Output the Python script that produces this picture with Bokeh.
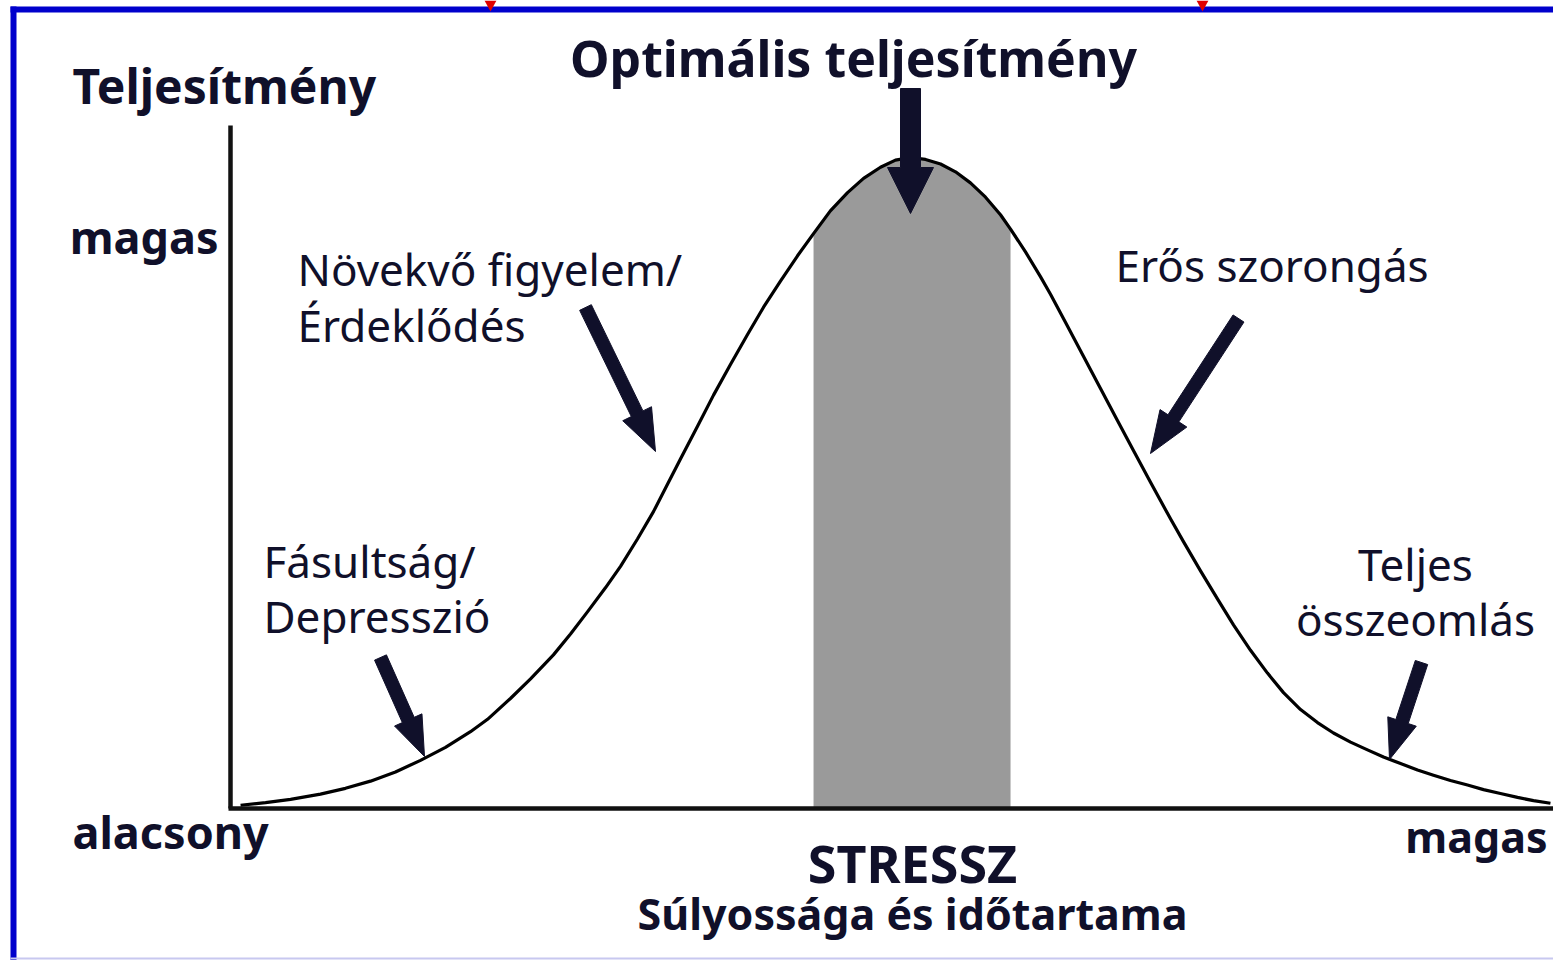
from bokeh.plotting import figure
from bokeh.models import Range1d, Label
from bokeh.embed import file_html
from bokeh.resources import INLINE
import math

# ---------------- data (stress level 0-100, performance 0-100) ----------------
stress = [0.76, 2.65, 4.54, 6.80, 8.69, 10.58, 12.47, 14.36, 16.25, 18.14,
          19.43, 21.16, 22.68, 24.41, 25.70, 26.98, 28.34, 29.48, 30.76, 31.97,
          33.03, 34.01, 35.30, 36.51, 37.79, 39.08, 40.29, 41.57, 42.86, 44.07,
          45.34, 46.64, 47.85, 49.13, 50.26, 51.40, 52.53, 53.67, 54.80, 55.93,
          57.07, 58.20, 58.96, 60.09, 61.22, 61.98, 63.11, 64.25, 65.76, 67.04,
          68.25, 69.54, 71.05, 72.03, 73.32, 74.60, 75.81, 77.10, 78.38, 79.59,
          80.88, 82.16, 83.37, 84.66, 85.94, 87.15, 88.44, 89.72, 90.93, 92.21,
          93.50, 94.71, 95.99, 97.28, 98.49, 99.77]
performance = [0.5, 0.9, 1.4, 2.2, 3.1, 4.2, 5.6, 7.4, 9.4, 11.8,
               13.7, 16.9, 19.9, 23.6, 26.8, 30.2, 33.9, 37.2, 41.4, 45.6,
               49.8, 53.7, 58.7, 63.5, 68.2, 72.8, 77.0, 81.0, 84.9, 88.3,
               91.8, 94.6, 96.8, 98.5, 99.6, 100.0, 99.7, 99.0, 97.8, 96.1,
               93.9, 91.2, 89.0, 85.5, 81.7, 79.0, 74.7, 70.3, 64.5, 59.6,
               55.0, 50.1, 44.5, 41.0, 36.5, 32.2, 28.2, 24.3, 20.8, 17.8,
               15.2, 13.2, 11.6, 10.2, 9.0, 7.9, 6.9, 5.9, 5.1, 4.3,
               3.6, 2.9, 2.3, 1.7, 1.2, 0.8]
optimal_zone = [44.07, 58.96]          # stress range of optimal performance
x_title = "STRESSZ"
x_subtitle = "Súlyossága és időtartama"
y_title = "Teljesítmény"
level_low, level_high = "alacsony", "magas"
peak_label = "Optimális teljesítmény"
phase_labels = ["Fásultság/\nDepresszió", "Növekvő figyelem/\nÉrdeklődés",
                "Erős szorongás", "Teljes\nösszeomlás"]

# ---------------- layout helpers (reference pixel -> data) ----------------
X0, XS = 230.0, 13.23     # px of stress 0, px per unit
Y0, YS = 808.0, 6.51      # px of performance 0, px per unit
def sx(px):
    return (px - X0) / XS
def sy(py):
    return (Y0 - py) / YS

W, H = 1553, 960
p = figure(width=W, height=H, output_backend="svg", toolbar_location=None,
           x_range=Range1d(sx(0), sx(W)), y_range=Range1d(sy(H), sy(0)),
           x_axis_location=None, y_axis_location=None, min_border=0)
p.grid.visible = False
p.outline_line_color = None
p.background_fill_color = "white"
p.border_fill_color = "white"

INK = "#10102a"
FONT = "Noto Sans"

# blue frame
p.line([sx(13), sx(13)], [sy(6), sy(960)], line_color="#0000cc", line_width=6)
p.line([sx(10), sx(1560)], [sy(9), sy(9)], line_color="#0000cc", line_width=6)
p.line([sx(10), sx(1560)], [sy(958), sy(958)], line_color="#c8c8f0", line_width=2)
for rx in (490, 1202):
    p.patch([sx(rx - 6), sx(rx + 6), sx(rx)], [sy(0), sy(0), sy(11)],
            fill_color="#e00000", line_color=None)

# optimal zone fill
zx = [s for s in stress if optimal_zone[0] <= s <= optimal_zone[1]]
zy = [v for s, v in zip(stress, performance) if optimal_zone[0] <= s <= optimal_zone[1]]
p.varea(x=zx, y1=[0] * len(zx), y2=zy, fill_color="#9a9a9a")

# curve
p.line(stress, performance, line_color="black", line_width=3.2, line_join="round")

# axes
p.line([0, 0], [0, sy(125)], line_color="#111111", line_width=4.5)
p.line([sx(228), sx(1560)], [0, 0], line_color="#111111", line_width=4.5)

# arrows (polygons in pixel space, converted to data units)
def arrow(x0, y0, x1, y1, sw, hw, hl):
    dx, dy = x1 - x0, y1 - y0
    L = math.hypot(dx, dy)
    ux, uy = dx / L, dy / L
    nx, ny = -uy, ux
    bx, by = x1 - ux * hl, y1 - uy * hl
    pts = [(x0 + nx * sw / 2, y0 + ny * sw / 2),
           (bx + nx * sw / 2, by + ny * sw / 2),
           (bx + nx * hw / 2, by + ny * hw / 2),
           (x1, y1),
           (bx - nx * hw / 2, by - ny * hw / 2),
           (bx - nx * sw / 2, by - ny * sw / 2),
           (x0 - nx * sw / 2, y0 - ny * sw / 2)]
    return [sx(a) for a, _ in pts], [sy(b) for _, b in pts]

arrows = [(910, 88, 910, 213, 20, 46, 46),
          (585, 307, 655, 451, 13, 32, 42),
          (1238, 318, 1150, 453, 13, 32, 42),
          (380, 657, 424, 756, 13, 30, 40),
          (1421, 662, 1389, 759, 13, 30, 40)]
xs, ys = [], []
for a in arrows:
    ax, ay = arrow(*a)
    xs.append(ax)
    ys.append(ay)
p.patches(xs, ys, fill_color=INK, line_color=INK, line_width=1)

# texts (py = wanted baseline in px)
def lab(px, py, text, size, bold=False, align="left", color=INK):
    p.add_layout(Label(x=sx(px), y=sy(py - 0.42 * size), text=text,
                       text_font=FONT, text_font_size=f"{size}px",
                       text_font_style="bold" if bold else "normal",
                       text_color=color, text_align=align,
                       text_baseline="alphabetic"))

lab(72, 105, y_title, 48, bold=True)
lab(853, 78, peak_label, 50, bold=True, align="center")
lab(218, 255, level_high, 45, bold=True, align="right")
lab(72, 850, level_low, 45, bold=True)
lab(1547, 854, level_high, 43, bold=True, align="right")
lab(912, 884, x_title, 52, bold=True, align="center")
lab(912, 931, x_subtitle, 43, bold=True, align="center")

l0 = phase_labels[0].split("\n")
l1 = phase_labels[1].split("\n")
l3 = phase_labels[3].split("\n")
lab(263, 579, l0[0], 44)
lab(263, 634, l0[1], 44)
lab(297, 287, l1[0], 44)
lab(297, 343, l1[1], 44)
lab(1115, 283, phase_labels[2], 44)
lab(1415, 582, l3[0], 44, align="center")
lab(1415, 637, l3[1], 44, align="center")

open("out.html", "w").write(file_html(p, INLINE))
